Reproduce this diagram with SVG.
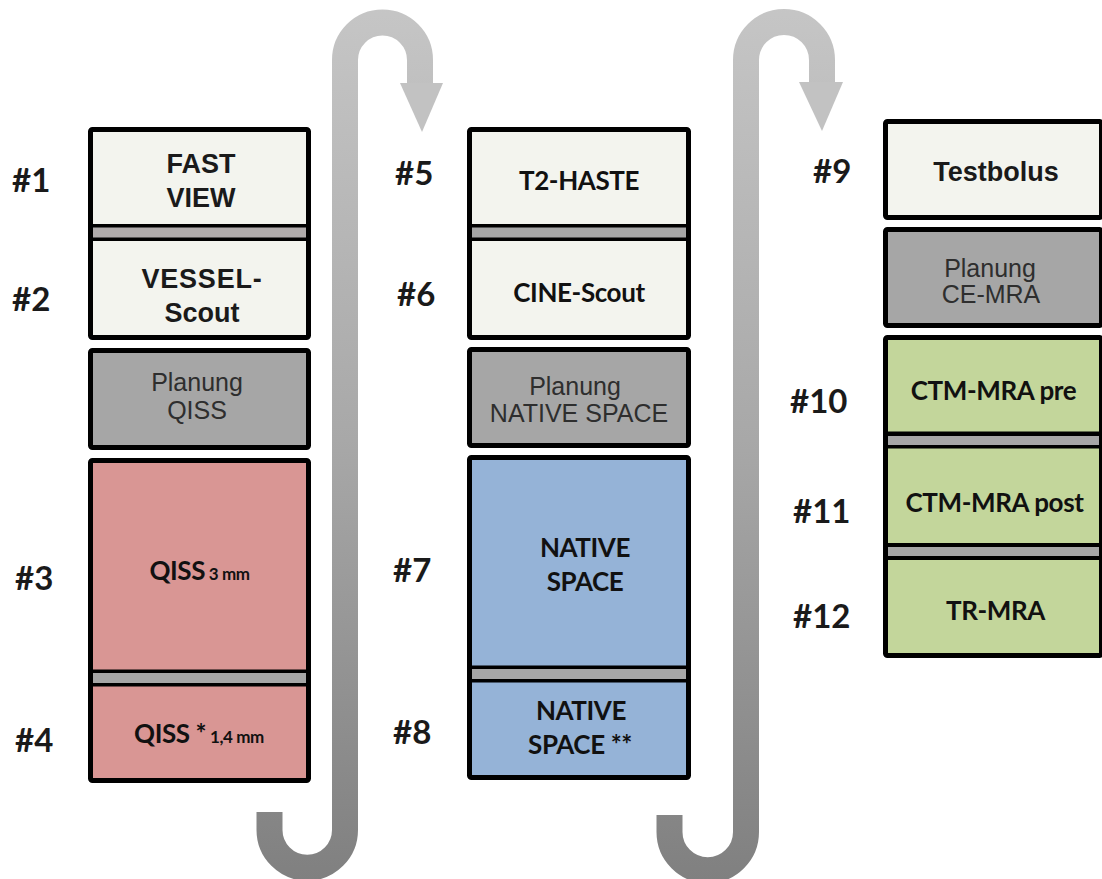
<svg xmlns="http://www.w3.org/2000/svg" width="1102" height="879" viewBox="0 0 1102 879">
<defs>
<linearGradient id="ag" gradientUnits="userSpaceOnUse" x1="0" y1="0" x2="0" y2="879">
<stop offset="0" stop-color="#c6c6c6"/>
<stop offset="0.5" stop-color="#a8a8a8"/>
<stop offset="1" stop-color="#808080"/>
</linearGradient>
</defs>
<style>
.box{stroke:#000;stroke-width:5;}
.ol{fill:none;stroke:#000;stroke-width:5;}
.lt{fill:#f3f4ee;}
.gy{fill:#a6a6a6;}
.pk{fill:#d99694;}
.bl{fill:#95b3d7;}
.gr{fill:#c3d69b;}
.bk{fill:#000;}
.bd{fill:#a6a6a6;}
.ar{font-family:"Liberation Sans",Arial,sans-serif;font-weight:bold;font-size:27px;fill:#1a1a1a;text-anchor:middle;}
.pl{font-family:"Liberation Sans",Arial,sans-serif;font-size:25px;fill:#2e2e2e;text-anchor:middle;}
.ca{font-family:Lato,"Open Sans",sans-serif;font-weight:bold;font-size:26px;fill:#111;text-anchor:middle;letter-spacing:-0.4px;}
.sm{font-size:17px;}
.lb{font-family:Lato,"Open Sans",sans-serif;font-weight:bold;font-size:33px;fill:#1a1a1a;}
.arrow{fill:none;stroke:url(#ag);stroke-width:26;}
.head{fill:#c2c2c2;}
</style>
<g id="connectors">
<path class="arrow" d="M269.5 812 V830 A37.75 37.75 0 0 0 345 830 V60 A37.5 37.5 0 0 1 420 60 V84"/>
<polygon class="head" points="400,83 443,83 422,132"/>
<path class="arrow" d="M669.5 815 V832 A38.25 38.25 0 0 0 746 832 V60 A38 38 0 0 1 822 60 V84"/>
<polygon class="head" points="799,82 843,82 822,131"/>
</g>
<g id="labels">
<text class="lb" x="12" y="192">#1</text>
<text class="lb" x="12" y="311">#2</text>
<text class="lb" x="15" y="590">#3</text>
<text class="lb" x="15" y="752">#4</text>
<text class="lb" x="395" y="185">#5</text>
<text class="lb" x="397" y="306">#6</text>
<text class="lb" x="393" y="582">#7</text>
<text class="lb" x="393" y="744">#8</text>
<text class="lb" x="813" y="183">#9</text>
<text class="lb" x="790" y="413">#10</text>
<text class="lb" x="793" y="523">#11</text>
<text class="lb" x="793" y="628">#12</text>
</g>
<g id="node-fastview-vessel">
<rect class="lt" x="90.5" y="129.5" width="218" height="208" rx="2"/>
<rect class="bk" x="90.5" y="224" width="218" height="17"/>
<rect x="90.5" y="227.5" width="218" height="10" fill="#b0abab"/>
<rect class="ol" x="90.5" y="129.5" width="218" height="208" rx="2"/>
<text class="ar" x="201" y="173">FAST</text>
<text class="ar" x="201" y="207">VIEW</text>
<text class="ar" x="202" y="288" letter-spacing="0.8">VESSEL-</text>
<text class="ar" x="202" y="322">Scout</text>
</g>
<g id="node-planung-qiss">
<rect class="box gy" x="90.5" y="350.5" width="218" height="97" rx="2"/>
<text class="pl" x="197" y="391">Planung</text>
<text class="pl" x="197" y="419">QISS</text>
</g>
<g id="node-qiss">
<rect class="pk" x="90.5" y="460.5" width="218" height="320" rx="2"/>
<rect class="bk" x="90.5" y="669.5" width="218" height="17"/>
<rect class="bd" x="90.5" y="673" width="218" height="10"/>
<rect class="ol" x="90.5" y="460.5" width="218" height="320" rx="2"/>
<text class="ca" x="199.5" y="580">QISS<tspan class="sm"> 3 mm</tspan></text>
<text class="ca" x="199" y="743">QISS *<tspan class="sm"> 1,4 mm</tspan></text>
</g>
<g id="node-haste-cine">
<rect class="lt" x="469.5" y="129.5" width="219" height="208" rx="2"/>
<rect class="bk" x="469.5" y="224" width="219" height="17"/>
<rect class="bd" x="469.5" y="227.5" width="219" height="10"/>
<rect class="ol" x="469.5" y="129.5" width="219" height="208" rx="2"/>
<text class="ca" x="579" y="190">T2-HASTE</text>
<text class="ca" x="579" y="302">CINE-Scout</text>
</g>
<g id="node-planung-native">
<rect class="box gy" x="469.5" y="349.5" width="219" height="96" rx="2"/>
<text class="pl" x="575" y="395">Planung</text>
<text class="pl" x="579" y="422">NATIVE SPACE</text>
</g>
<g id="node-native">
<rect class="bl" x="469.5" y="457.5" width="219" height="320" rx="2"/>
<rect class="bk" x="469.5" y="665.5" width="219" height="17"/>
<rect class="bd" x="469.5" y="669" width="219" height="10"/>
<rect class="ol" x="469.5" y="457.5" width="219" height="320" rx="2"/>
<text class="ca" x="585" y="557">NATIVE</text>
<text class="ca" x="585" y="591">SPACE</text>
<text class="ca" x="581" y="720">NATIVE</text>
<text class="ca" x="580" y="754">SPACE **</text>
</g>
<g id="node-testbolus">
<rect class="box lt" x="885.5" y="121.5" width="216" height="96" rx="2"/>
<text class="ar" x="996" y="181">Testbolus</text>
</g>
<g id="node-planung-ce">
<rect class="box gy" x="885.5" y="229.5" width="216" height="96" rx="2"/>
<text class="pl" x="990" y="277">Planung</text>
<text class="pl" x="991" y="303">CE-MRA</text>
</g>
<g id="node-ctm">
<rect class="gr" x="885.5" y="337.5" width="216" height="318" rx="2"/>
<rect class="bk" x="885.5" y="431.5" width="216" height="17"/>
<rect class="bd" x="885.5" y="436" width="216" height="9"/>
<rect class="bk" x="885.5" y="543" width="216" height="17"/>
<rect class="bd" x="885.5" y="547" width="216" height="9"/>
<rect class="ol" x="885.5" y="337.5" width="216" height="318" rx="2"/>
<text class="ca" x="993.5" y="400">CTM-MRA pre</text>
<text class="ca" x="994.5" y="512">CTM-MRA post</text>
<text class="ca" x="995.5" y="620">TR-MRA</text>
</g>
</svg>
